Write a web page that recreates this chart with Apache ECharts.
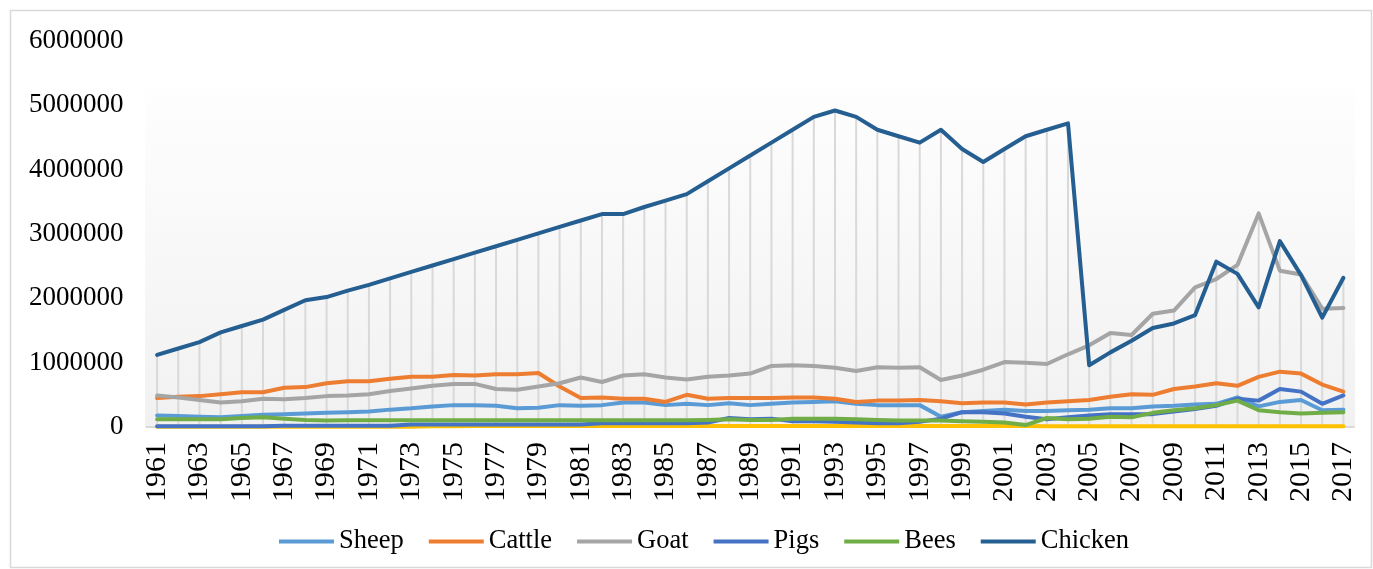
<!DOCTYPE html>
<html><head><meta charset="utf-8">
<script src="https://cdn.jsdelivr.net/npm/echarts@6/dist/echarts.min.js"></script>
<style>html,body{margin:0;padding:0;background:#fff}#c{width:1373px;height:569px}</style>
</head><body><div id="c"></div>
<script>
const years = ['1961','1962','1963','1964','1965','1966','1967','1968','1969','1970',
  '1971','1972','1973','1974','1975','1976','1977','1978','1979','1980',
  '1981','1982','1983','1984','1985','1986','1987','1988','1989','1990',
  '1991','1992','1993','1994','1995','1996','1997','1998','1999','2000',
  '2001','2002','2003','2004','2005','2006','2007','2008','2009','2010',
  '2011','2012','2013','2014','2015','2016','2017'];

const yTicks = [0, 1000000, 2000000, 3000000, 4000000, 5000000, 6000000];

const sheep = [180000,170000,160000,150000,170000,190000,200000,210000,220000,230000,
  240000,270000,290000,320000,340000,340000,330000,290000,300000,340000,
  330000,340000,380000,380000,340000,360000,340000,370000,340000,360000,
  380000,390000,400000,360000,340000,340000,340000,160000,230000,250000,
  270000,250000,250000,260000,270000,290000,290000,320000,330000,350000,
  360000,460000,320000,390000,420000,260000,270000];

const cattle = [450000,470000,480000,510000,540000,540000,610000,620000,680000,710000,
  710000,750000,780000,780000,810000,800000,820000,820000,840000,630000,
  450000,460000,440000,440000,390000,500000,440000,450000,450000,450000,
  460000,460000,440000,390000,410000,410000,420000,400000,370000,380000,
  380000,350000,380000,400000,420000,470000,510000,500000,590000,630000,
  680000,640000,780000,860000,830000,660000,550000];

const goat = [490000,460000,420000,380000,400000,440000,430000,450000,480000,490000,
  510000,560000,600000,640000,670000,670000,590000,580000,630000,680000,
  770000,700000,800000,820000,770000,740000,780000,800000,830000,950000,
  960000,950000,920000,870000,930000,920000,930000,730000,800000,890000,
  1010000,1000000,980000,1130000,1270000,1460000,1430000,1760000,1810000,2170000,
  2300000,2520000,3320000,2430000,2370000,1840000,1850000];

const other = [5000,5000,5000,5000,5000,5000,5000,5000,5000,5000,
  5000,5000,5000,10000,10000,15000,20000,15000,15000,15000,
  15000,15000,15000,15000,15000,15000,15000,15000,15000,15000,
  15000,15000,15000,15000,15000,15000,15000,15000,15000,15000,
  15000,15000,10000,10000,10000,10000,10000,10000,10000,10000,
  10000,10000,10000,10000,10000,10000,10000];

const pigs = [10000,10000,10000,10000,10000,10000,20000,20000,20000,20000,
  20000,20000,40000,40000,40000,40000,40000,40000,40000,40000,
  40000,60000,60000,60000,60000,60000,70000,140000,120000,130000,
  90000,90000,80000,70000,60000,60000,80000,130000,230000,230000,
  210000,160000,120000,150000,180000,200000,200000,200000,240000,280000,
  330000,440000,410000,590000,550000,360000,490000];

const bees = [120000,120000,120000,120000,140000,150000,130000,110000,100000,105000,
  105000,105000,105000,105000,105000,105000,105000,105000,105000,105000,
  105000,105000,105000,105000,105000,105000,110000,120000,110000,110000,
  130000,130000,130000,120000,110000,100000,100000,100000,90000,80000,
  70000,30000,140000,120000,130000,160000,150000,220000,260000,290000,
  340000,410000,260000,230000,210000,220000,230000];

const chicken = [1120000,1220000,1320000,1470000,1570000,1670000,1820000,1970000,2020000,2120000,
  2210000,2310000,2410000,2510000,2610000,2710000,2810000,2910000,3010000,3110000,
  3210000,3310000,3310000,3420000,3520000,3620000,3820000,4020000,4220000,4420000,
  4620000,4820000,4920000,4820000,4620000,4520000,4420000,4620000,4320000,4120000,
  4320000,4520000,4620000,4720000,960000,1160000,1340000,1540000,1610000,1740000,
  2570000,2380000,1860000,2890000,2360000,1700000,2320000];

const seriesDefs = [
  {name: 'Sheep', data: sheep, color: '#5B9BD5', legend: true},
  {name: 'Cattle', data: cattle, color: '#ED7D31', legend: true},
  {name: 'Goat', data: goat, color: '#A5A5A5', legend: true},
  {name: 'Other', data: other, color: '#FFC000', legend: false},
  {name: 'Pigs', data: pigs, color: '#4472C4', legend: true},
  {name: 'Bees', data: bees, color: '#70AD47', legend: true},
  {name: 'Chicken', data: chicken, color: '#255E91', legend: true}
];

const hiLo = years.map((y, i) => {
  const vals = seriesDefs.map(s => s.data[i]);
  return [i, Math.max.apply(null, vals), Math.min.apply(null, vals)];
});

const FONT = '"Liberation Serif", "Times New Roman", serif';

const chart = echarts.init(document.getElementById('c'), null, {renderer: 'canvas'});

const series = [{
  type: 'custom',
  name: 'hilo',
  z: 1,
  silent: true,
  encode: {x: 0, y: [1, 2]},
  data: hiLo,
  renderItem: function (params, api) {
    const top = api.coord([api.value(0), api.value(1)]);
    const bot = api.coord([api.value(0), api.value(2)]);
    return {type: 'line', shape: {x1: top[0], y1: top[1], x2: bot[0], y2: bot[1]},
      style: {stroke: '#d9d9d9', lineWidth: 2}};
  }
}].concat(seriesDefs.map(s => ({
  type: 'line',
  name: s.name,
  data: s.data,
  z: 3,
  showSymbol: false,
  symbol: 'none',
  color: s.color,
  lineStyle: {width: 4, color: s.color, cap: 'round', join: 'round'}
})));

chart.setOption({
  animation: false,
  backgroundColor: '#ffffff',
  graphic: [
    {type: 'rect', z: -10, silent: true,
      shape: {x: 10.5, y: 10.5, width: 1361, height: 557},
      style: {fill: '#ffffff', stroke: '#d9d9d9', lineWidth: 1.5}},
    {type: 'rect', z: -5, silent: true,
      shape: {x: 145, y: 88, width: 1210, height: 339},
      style: {fill: new echarts.graphic.LinearGradient(0, 0, 0, 1, [
        {offset: 0, color: '#fefefe'}, {offset: 1, color: '#f1f1f1'}])}}
  ],
  grid: {left: 146.5, right: 19, top: 41, bottom: 142, containLabel: false},
  legend: {
    data: seriesDefs.filter(s => s.legend).map(s => s.name),
    left: 274, top: 523,
    icon: 'rect', itemWidth: 55, itemHeight: 4, itemGap: 25,
    textStyle: {fontFamily: FONT, fontSize: 26.5, color: '#000'}
  },
  xAxis: {
    type: 'category',
    data: years,
    boundaryGap: true,
    axisLine: {show: true, lineStyle: {color: '#d9d9d9', width: 2}},
    axisTick: {show: false},
    splitLine: {show: false},
    axisLabel: {interval: 1, rotate: 90, margin: 15, color: '#000',
      fontFamily: FONT, fontSize: 30}
  },
  yAxis: {
    type: 'value',
    min: yTicks[0], max: yTicks[yTicks.length - 1], interval: yTicks[1] - yTicks[0],
    axisLine: {show: false},
    axisTick: {show: false},
    splitLine: {show: false},
    axisLabel: {margin: 23, color: '#000', fontFamily: FONT, fontSize: 27,
      formatter: function (v) { return String(v); }}
  },
  series: series
});
</script>
</body></html>
